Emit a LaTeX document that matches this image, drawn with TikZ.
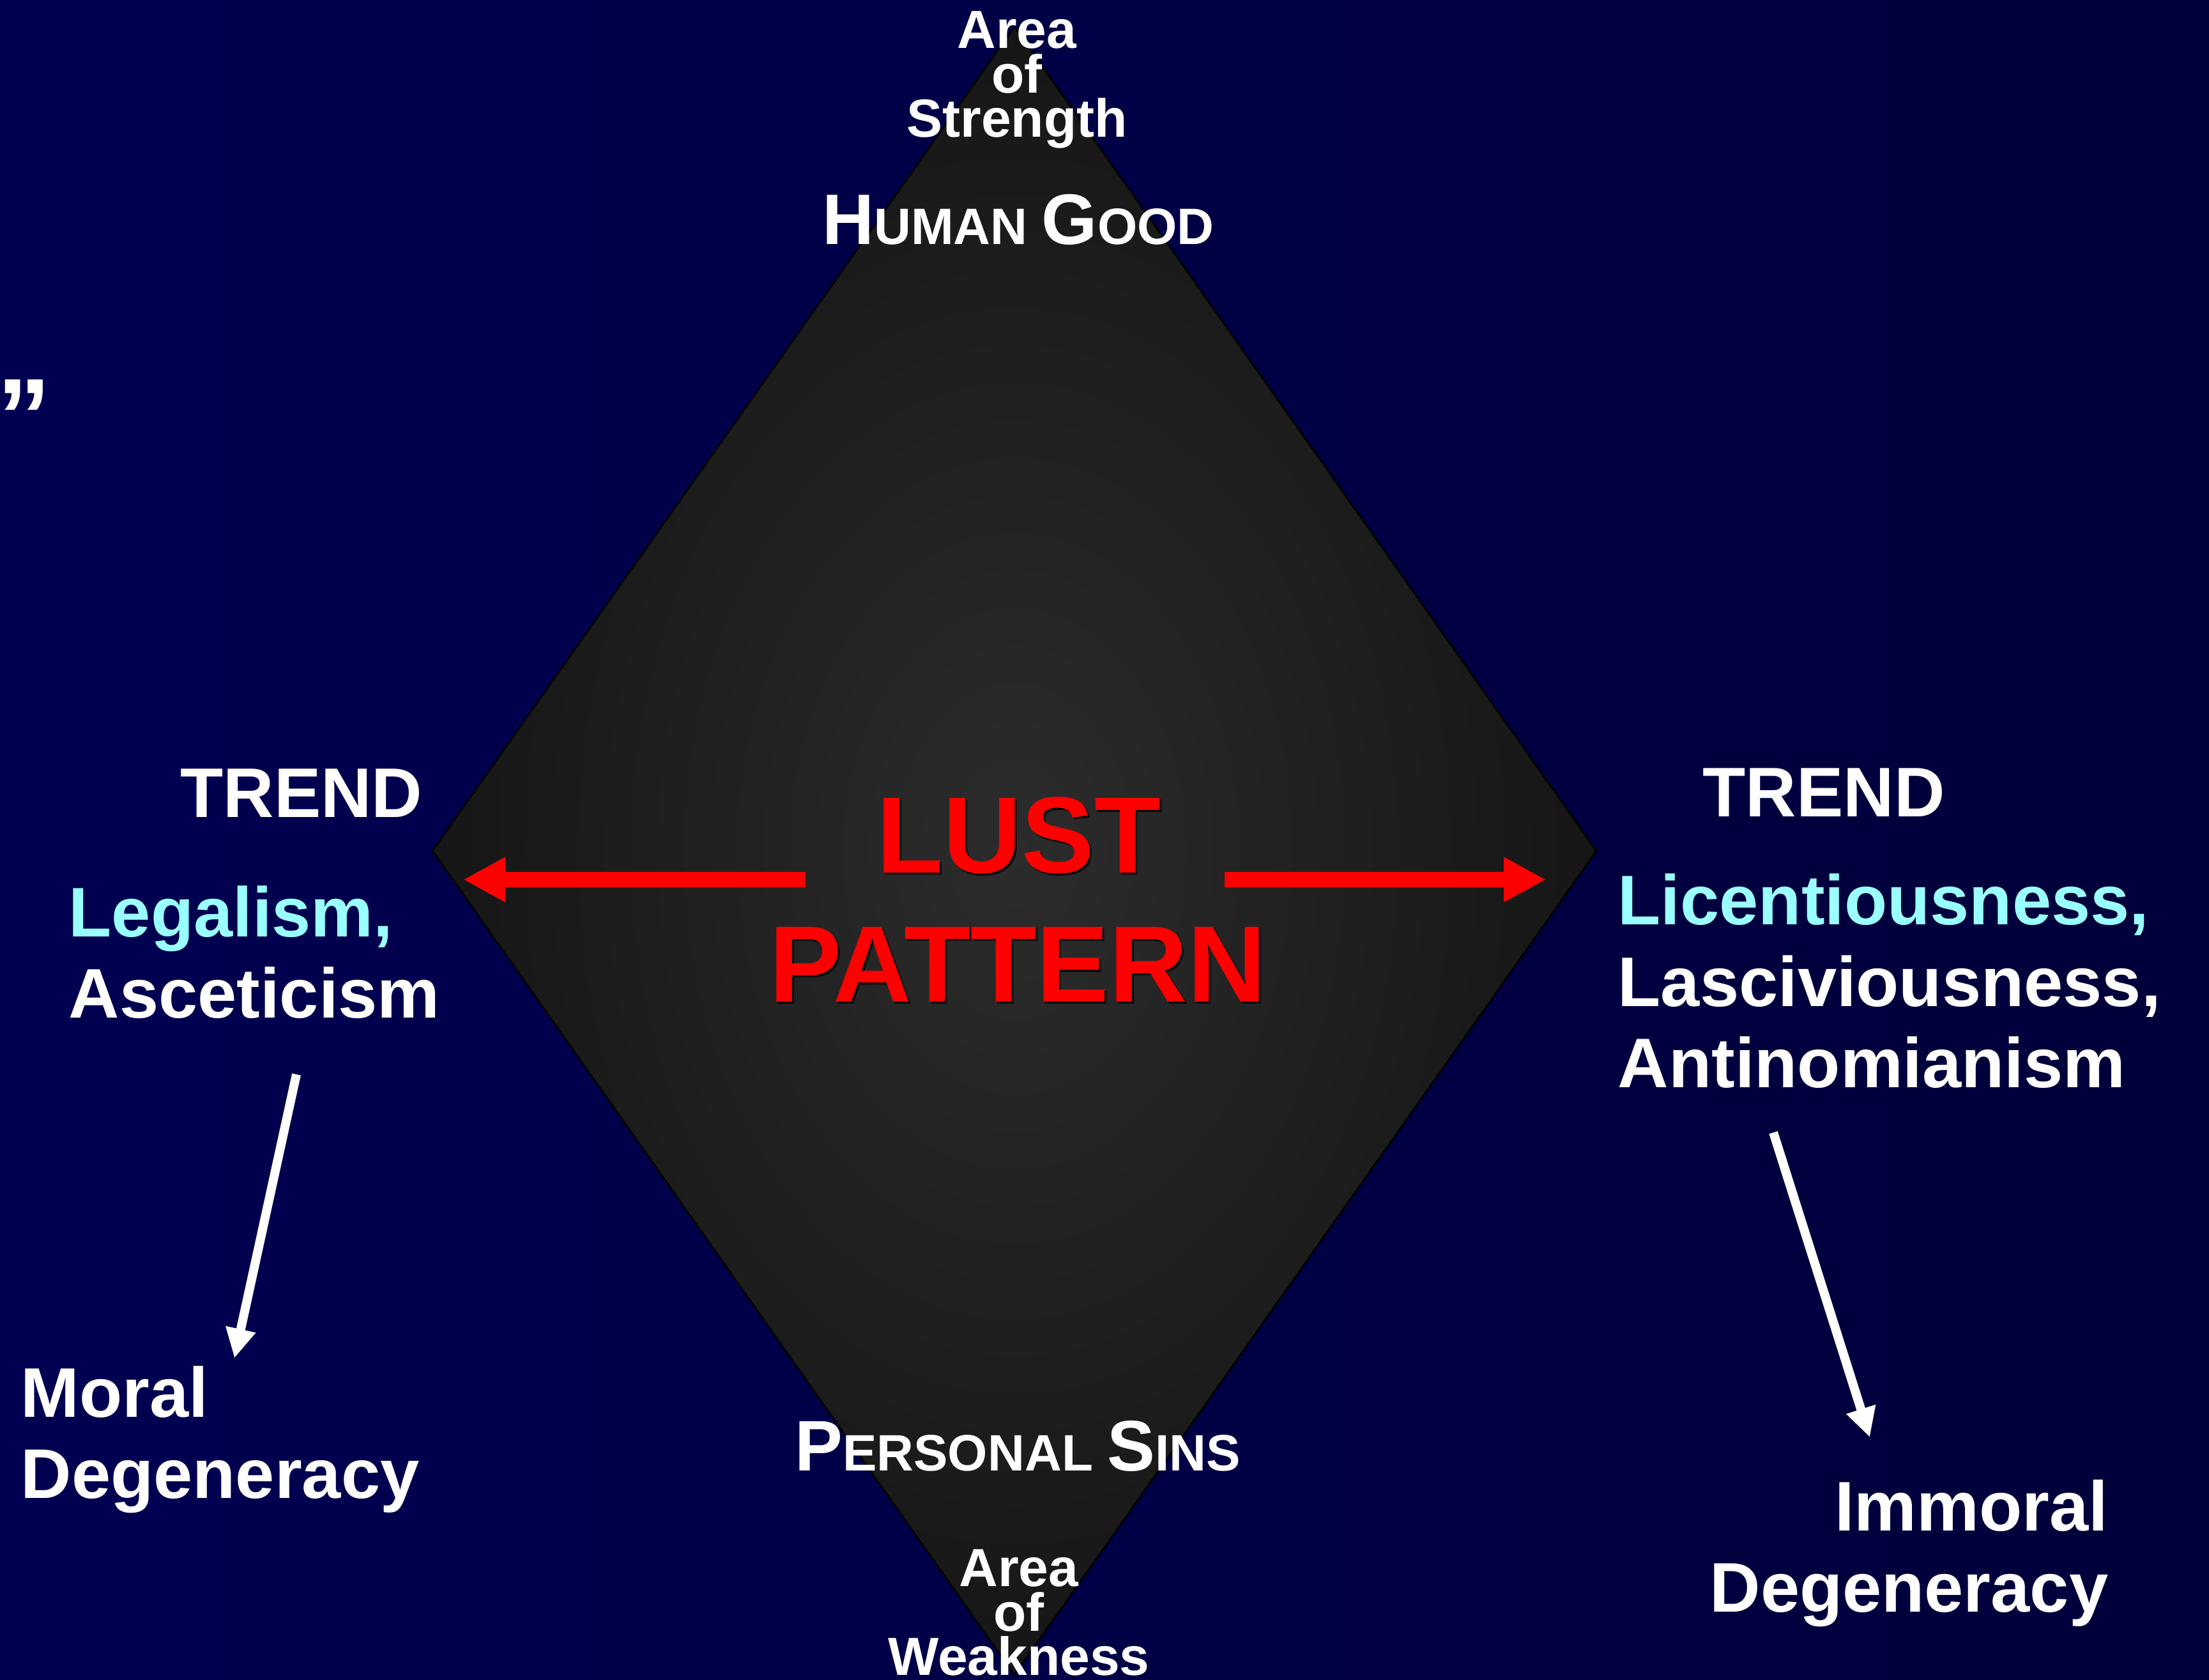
\documentclass[tikz,border=0pt]{standalone}
\usepackage{fontspec}
\setmainfont{Liberation Sans}
\usetikzlibrary{arrows.meta}

\definecolor{navyL}{RGB}{0,0,82}
\definecolor{navyR}{RGB}{0,0,58}
\definecolor{paleCyan}{RGB}{153,255,255}
\definecolor{diamIn}{RGB}{44,44,44}
\definecolor{diamOut}{RGB}{22,22,22}

\newcommand\fsz[2]{\fontsize{#1}{#2}\selectfont}
\newcommand\smcap[2]{{\fsz{31.9}{36}#1}#2}

\begin{document}
\begin{tikzpicture}[
    txt/.style={text=white,font=\bfseries\fsz{31.3}{36.4},inner sep=0pt},
    areatxt/.style={txt,align=center,font=\bfseries\fsz{23.9}{19.8}},
    sctxt/.style={txt,font=\bfseries\fsz{22.8}{26}},
    lusttxt/.style={inner sep=0pt,font=\bfseries\fsz{48.4}{57.5}},
    redarrow/.style={red,line width=2.4mm,-{Triangle[length=6.6mm,width=6.6mm]}},
    whitearrow/.style={white,line width=1.4mm,-{Triangle[length=4.6mm,width=4.5mm]}}]
    \useasboundingbox (0,0) rectangle (34.58,26.30);
    \shade[left color=navyL,right color=navyR] (0,0) rectangle (34.58,26.30);
    % diamond
    \coordinate (top) at (15.88,25.88);
    \coordinate (right) at (24.99,12.98);
    \coordinate (bottom) at (15.88,0.08);
    \coordinate (left) at (6.77,12.98);
    \draw[black,line width=0.8pt,inner color=diamIn,outer color=diamOut] (top) -- (right) -- (bottom) -- (left) -- cycle;

    \node[txt,font=\bfseries\fsz{48}{50},anchor=base east] (quote) at (0.81,19.19) {”};

    % base = last line
    \node[areatxt,anchor=base] (strength) at (15.92,24.15) {Area\\of\\Strength};
    \node[sctxt,anchor=base] (humangood) at (15.94,22.47) {\smcap{H}{UMAN} \smcap{G}{OOD}};
    \node[sctxt,anchor=base] (personal) at (15.93,3.27) {\smcap{P}{ERSONAL} \smcap{S}{INS}};
    \node[areatxt,anchor=base] (weakness) at (15.95,0.07) {Area\\of\\Weakness};

    % centre
    \node[lusttxt,text=black,anchor=base] (lustsh) at (15.98,12.60) {LUST};
    \node[lusttxt,text=red,anchor=base] (lust) at (15.95,12.63) {LUST};
    \node[lusttxt,text=black,anchor=base] (patternsh) at (15.96,10.58) {PATTERN};
    \node[lusttxt,text=red,anchor=base] (pattern) at (15.93,10.61) {PATTERN};
    \coordinate (redL0) at (12.61,12.53);
    \coordinate (redL1) at (7.25,12.53);
    \coordinate (redR0) at (19.17,12.53);
    \coordinate (redR1) at (24.20,12.53);
    \draw[redarrow] (redL0) -- (redL1);
    \draw[redarrow] (redR0) -- (redR1);

    % left side
    \node[txt,anchor=base] (trendL) at (4.72,13.50) {TREND};
    \node[txt,anchor=base west,align=left] (legal) at (1.07,10.36) {\textcolor{paleCyan}{Legalism,}\\Asceticism};
    \coordinate (wl0) at (4.64,9.48);
    \coordinate (wl1) at (3.67,5.04);
    \draw[whitearrow] (wl0) -- (wl1);
    \node[txt,anchor=base west,align=left] (moral) at (0.32,2.84) {Moral\\Degeneracy};

    % right side
    \node[txt,anchor=base] (trendR) at (28.55,13.51) {TREND};
    \node[txt,anchor=base west,align=left] (licent) at (25.32,9.27) {\textcolor{paleCyan}{Licentiousness,}\\Lasciviousness,\\Antinomianism};
    \coordinate (wr0) at (27.76,8.57);
    \coordinate (wr1) at (29.27,3.80);
    \draw[whitearrow] (wr0) -- (wr1);
    \node[txt,anchor=base east,align=right] (immoral) at (33.01,1.06) {Immoral\\Degeneracy};
\end{tikzpicture}
\end{document}
